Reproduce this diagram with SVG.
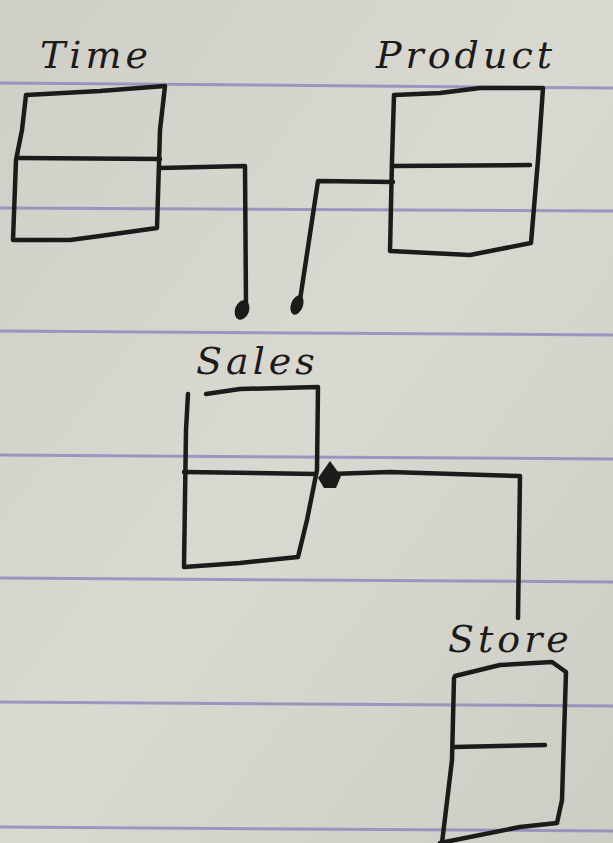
<svg xmlns="http://www.w3.org/2000/svg" width="613" height="843" viewBox="0 0 613 843">
<defs>
<linearGradient id="paper" x1="0" y1="0" x2="1" y2="1">
<stop offset="0" stop-color="#cfcfc8"/>
<stop offset="0.5" stop-color="#d9d9d2"/>
<stop offset="1" stop-color="#cdccc5"/>
</linearGradient>
</defs>
<style>
.rule{stroke:#8a7fb8;stroke-width:3;opacity:0.75;fill:none}
.ink{stroke:#1c1b1a;stroke-width:4.5;fill:none;stroke-linejoin:round;stroke-linecap:round}
.dot{fill:#1c1b1a}
.lbl{font-family:"DejaVu Serif","Liberation Serif",serif;font-style:italic;font-size:38px;fill:#1c1b1a;letter-spacing:4px}
</style>
<rect x="0" y="0" width="613" height="843" fill="url(#paper)"/>
<g id="rules">
<path class="rule" d="M0 83 L613 88"/>
<path class="rule" d="M0 208 L613 211"/>
<path class="rule" d="M0 331 L613 335"/>
<path class="rule" d="M0 455 L613 459"/>
<path class="rule" d="M0 578 L613 582"/>
<path class="rule" d="M0 702 L613 706"/>
<path class="rule" d="M0 827 L613 831"/>
</g>
<g id="connectors">
<path class="ink" d="M160 168 L245 166 L246 306"/>
<ellipse class="dot" cx="242" cy="310" rx="7" ry="10" transform="rotate(20 242 310)"/>
<path class="ink" d="M393 182 L318 181 L300 300"/>
<ellipse class="dot" cx="297" cy="305" rx="6" ry="10" transform="rotate(20 297 305)"/>
<path class="ink" d="M330 474 L390 472 L520 476 L518 618"/>
<path class="dot" d="M330 461 L341 476 L336 488 L324 488 L318 478 Z"/>
</g>
<g id="time">
<text class="lbl" x="40" y="68">Time</text>
<path class="ink" d="M26 95 L100 91 L165 86 L160 130 L157 228 L100 236 L70 240 L13 240 L16 160 L22 130 L26 95"/>
<path class="ink" d="M19 158 L160 159"/>
</g>
<g id="product">
<text class="lbl" x="376" y="68">Product</text>
<path class="ink" d="M394 95 L440 93 L480 88 L543 88 L538 160 L531 243 L470 255 L390 251 L392 160 L394 95"/>
<path class="ink" d="M394 166 L530 165"/>
</g>
<g id="sales">
<text class="lbl" x="196" y="374">Sales</text>
<path class="ink" d="M206 394 L240 389 L318 387 L317 470 L307 520 L298 557 L240 563 L184 567 L186 430 L188 394"/>
<path class="ink" d="M184 472 L316 474"/>
</g>
<g id="store">
<text class="lbl" x="448" y="652">Store</text>
<path class="ink" d="M455 676 L500 665 L552 662 L566 672 L562 800 L557 823 L520 827 L440 843 M454 678 L452 760 L442 843"/>
<path class="ink" d="M454 747 L545 745"/>
</g>
</svg>
